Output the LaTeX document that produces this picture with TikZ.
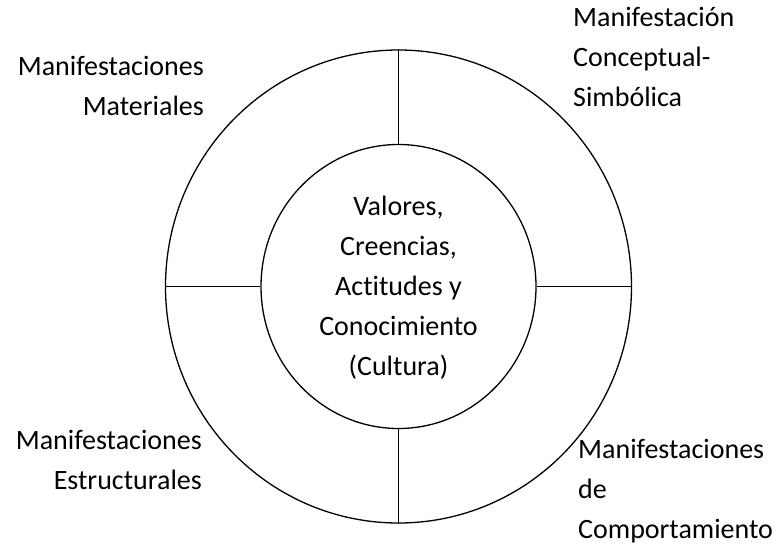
\documentclass[tikz,border=0pt]{standalone}
\usepackage{fontspec}
\setmainfont{Carlito}[Ligatures=NoCommon]
\usetikzlibrary{shapes.geometric}

\tikzset{
  ring/.style={ellipse,draw,line width=1.3pt,inner sep=0pt},
  lbl/.style={font=\fontsize{28}{40}\selectfont,inner sep=0pt}
}

\begin{document}
\begin{tikzpicture}[x=1pt,y=-1pt]
  \useasboundingbox (0,0) rectangle (779,549);
  % rings
  \node[ring,minimum width=466pt,minimum height=473pt] (outer) at (398.5,286.5) {};
  \node[ring,lbl,align=center,text depth=1pt,minimum width=275pt,minimum height=284pt] (inner) at (398.5,286.5)
    {Valores,\\Creencias,\\Actitudes y\\Conocimiento\\(Cultura)};
  % spokes
  \foreach \a in {north,south,east,west}
    \draw[line width=1.3pt] (inner.\a) -- (outer.\a);
  % labels (anchored at the last line)
  \node[lbl,align=right,anchor=base east] (mat) at (204,115) {Manifestaciones\\Materiales};
  \node[lbl,align=left,anchor=base west] (con) at (573,106) {Manifestación\\Conceptual-\\Simbólica};
  \node[lbl,align=right,anchor=base east] (est) at (202,489) {Manifestaciones\\Estructurales};
  \node[lbl,align=left,anchor=base west] (com) at (578,538) {Manifestaciones\\de\\Comportamiento};
\end{tikzpicture}
\end{document}
